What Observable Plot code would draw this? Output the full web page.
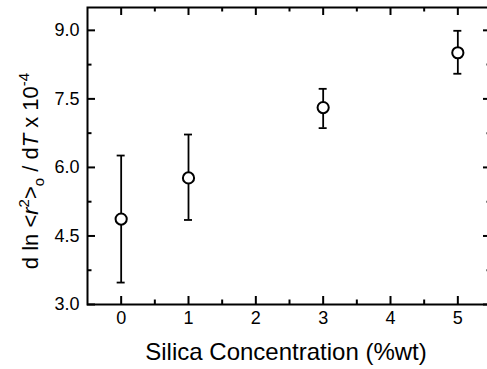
<!DOCTYPE html>
<html>
<head>
<meta charset="utf-8">
<script src="https://cdn.jsdelivr.net/npm/d3@7"></script>
<script src="https://cdn.jsdelivr.net/npm/@observablehq/plot@0.6"></script>
<style>
  html, body { margin: 0; padding: 0; background: #fff; overflow: hidden; }
  #chart { width: 495px; height: 369px; }
  #chart svg { max-width: none !important; }
</style>
</head>
<body>
<div id="chart"></div>
<script>
// Data
const silica = [0, 1, 3, 5];
const slope = [4.87, 5.77, 7.31, 8.51];
const slopeLow = [3.48, 4.85, 6.86, 8.05];
const slopeHigh = [6.26, 6.72, 7.72, 8.99];

// Axis settings
const xDomain = [-0.5, 5.5];
const yDomain = [3, 9.5];
const xMajor = [0, 1, 2, 3, 4, 5];
const xMinor = [0.5, 1.5, 2.5, 3.5, 4.5];
const yMajor = [3, 4.5, 6, 7.5, 9];
const yMinor = [3.75, 5.25, 6.75, 8.25];
const xTitle = "Silica Concentration (%wt)";

const data = silica.map((x, i) => ({x, y: slope[i], lo: slopeLow[i], hi: slopeHigh[i]}));

const FONT = "'Liberation Sans', Arial, Helvetica, sans-serif";
const W = 495, H = 369, ML = 87, MR = 4, MT = 7, MB = 65;
const PW = W - ML - MR, PH = H - MT - MB;
const MAJ = 8, MIN = 4.5, TW = 2;

const chart = Plot.plot({
  width: W,
  height: H,
  marginLeft: ML,
  marginRight: MR,
  marginTop: MT,
  marginBottom: MB,
  style: {fontFamily: FONT, fontSize: "18px", color: "#000", background: "#fff", overflow: "visible", maxWidth: "none"},
  x: {domain: xDomain, axis: null},
  y: {domain: yDomain, axis: null},
  marks: [
    // bottom ticks (inward)
    Plot.tickX(xMajor, {x: d => d, insetTop: PH - MAJ, stroke: "#000", strokeWidth: TW}),
    Plot.tickX(xMinor, {x: d => d, insetTop: PH - MIN, stroke: "#000", strokeWidth: TW}),
    // top ticks (inward)
    Plot.tickX(xMajor, {x: d => d, insetBottom: PH - MAJ, stroke: "#000", strokeWidth: TW}),
    Plot.tickX(xMinor, {x: d => d, insetBottom: PH - MIN, stroke: "#000", strokeWidth: TW}),
    // left ticks (inward)
    Plot.tickY(yMajor, {y: d => d, insetRight: PW - MAJ, stroke: "#000", strokeWidth: TW}),
    Plot.tickY(yMinor, {y: d => d, insetRight: PW - MIN, stroke: "#000", strokeWidth: TW}),
    // right ticks (inward)
    Plot.tickY(yMajor, {y: d => d, insetLeft: PW - MAJ, stroke: "#000", strokeWidth: TW}),
    Plot.tickY(yMinor, {y: d => d, insetLeft: PW - MIN, stroke: "#000", strokeWidth: TW}),
    // tick labels
    Plot.axisX(xMajor, {tickSize: 0, tickPadding: 7, tickFormat: d => String(d), label: null, fontSize: 18, fill: "#000"}),
    Plot.axisY(yMajor, {tickSize: 0, tickPadding: 8, tickFormat: d => d.toFixed(1), label: null, fontSize: 18, fill: "#000"}),
    // error bars
    Plot.ruleX(data, {x: "x", y1: "lo", y2: "hi", stroke: "#000", strokeWidth: 1.8}),
    Plot.ruleY(data, {y: "lo", x1: "x", x2: "x", insetLeft: -4, insetRight: -4, stroke: "#000", strokeWidth: 1.8}),
    Plot.ruleY(data, {y: "hi", x1: "x", x2: "x", insetLeft: -4, insetRight: -4, stroke: "#000", strokeWidth: 1.8}),
    // points
    Plot.dot(data, {x: "x", y: "y", r: 5.6, fill: "#fff", stroke: "#000", strokeWidth: 2}),
    Plot.frame({stroke: "#000", strokeWidth: 2})
  ]
});

const svg = d3.select(chart);
// x title
svg.append("text")
  .attr("x", 286).attr("y", 360)
  .attr("text-anchor", "middle")
  .attr("font-family", FONT).attr("font-size", 24).attr("fill", "#000")
  .text(xTitle);

// y title with super/subscripts
const yt = svg.append("text")
  .attr("transform", "translate(38,171) rotate(-90)")
  .attr("text-anchor", "middle")
  .attr("font-family", FONT).attr("font-size", 22).attr("fill", "#000");
yt.append("tspan").text("d ln <");
yt.append("tspan").attr("font-style", "italic").text("r");
yt.append("tspan").attr("font-size", 15).attr("dy", -9).text("2");
yt.append("tspan").attr("dy", 9).text(">");
yt.append("tspan").attr("font-size", 15).attr("dy", 6).text("o");
yt.append("tspan").attr("dy", -6).text(" / d");
yt.append("tspan").attr("font-style", "italic").text("T");
yt.append("tspan").text(" x 10");
yt.append("tspan").attr("font-size", 15).attr("dy", -9).text("-4");

document.getElementById("chart").appendChild(chart);
</script>
</body>
</html>
